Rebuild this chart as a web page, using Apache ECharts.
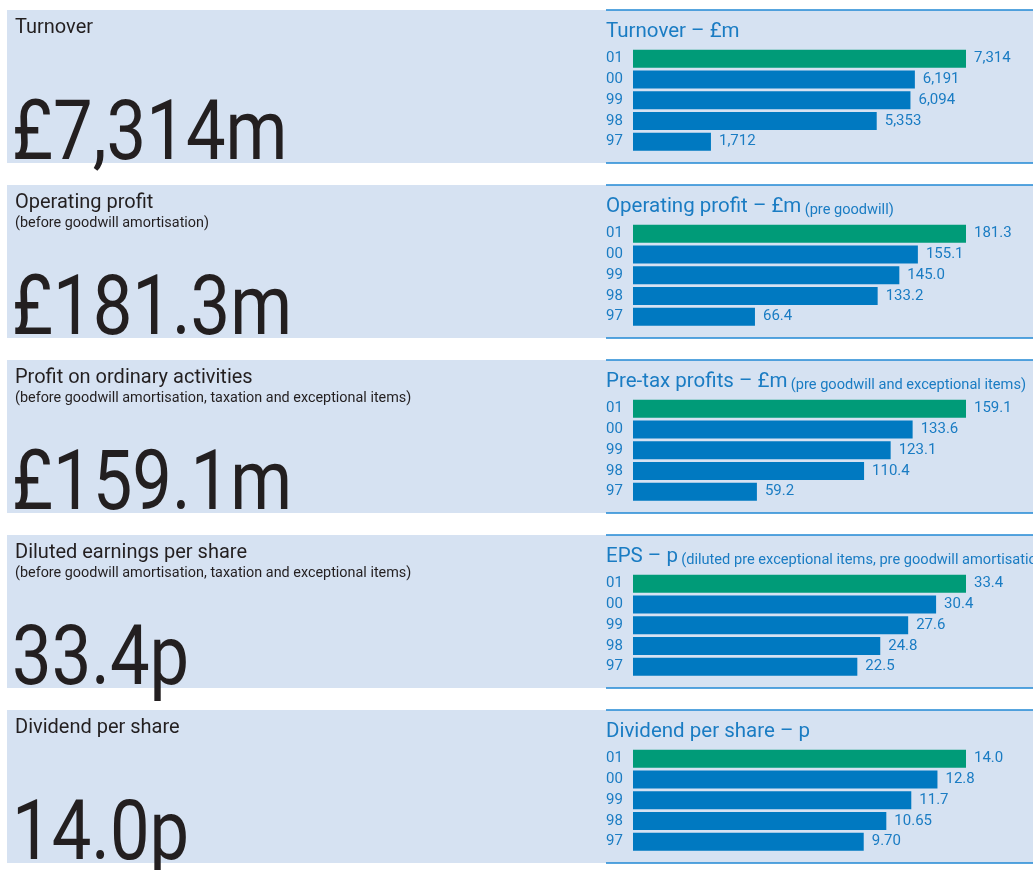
<!DOCTYPE html>
<html>
<head>
<meta charset="utf-8">
<script src="https://cdn.jsdelivr.net/npm/echarts@6/dist/echarts.min.js"></script>
<style>
  html, body { margin: 0; padding: 0; background: #fff; }
  #chart { width: 1033px; height: 870px; }
</style>
</head>
<body>
<div id="chart"></div>
<script>
// years, newest first
var years = ['01', '00', '99', '98', '97'];

var turnover = [7314, 6191, 6094, 5353, 1712];
var turnoverLabels = ['7,314', '6,191', '6,094', '5,353', '1,712'];
var opProfit = [181.3, 155.1, 145.0, 133.2, 66.4];
var opProfitLabels = ['181.3', '155.1', '145.0', '133.2', '66.4'];
var pretax = [159.1, 133.6, 123.1, 110.4, 59.2];
var pretaxLabels = ['159.1', '133.6', '123.1', '110.4', '59.2'];
var eps = [33.4, 30.4, 27.6, 24.8, 22.5];
var epsLabels = ['33.4', '30.4', '27.6', '24.8', '22.5'];
var dividend = [14.0, 12.8, 11.7, 10.65, 9.70];
var dividendLabels = ['14.0', '12.8', '11.7', '10.65', '9.70'];

var leftTitles = ['Turnover', 'Operating profit', 'Profit on ordinary activities',
  'Diluted earnings per share', 'Dividend per share'];
var leftNotes = ['', '(before goodwill amortisation)',
  '(before goodwill amortisation, taxation and exceptional items)',
  '(before goodwill amortisation, taxation and exceptional items)', ''];
var headlines = ['£7,314m', '£181.3m', '£159.1m', '33.4p', '14.0p'];
var chartTitles = ['Turnover – £m', 'Operating profit – £m', 'Pre-tax profits – £m',
  'EPS – p', 'Dividend per share – p'];
var chartNotes = ['', '(pre goodwill)', '(pre goodwill and exceptional items)',
  '(diluted pre exceptional items, pre goodwill amortisation)', ''];

var allValues = [turnover, opProfit, pretax, eps, dividend];
var allLabels = [turnoverLabels, opProfitLabels, pretaxLabels, epsLabels, dividendLabels];

var FONT = 'Roboto, "Noto Sans", sans-serif';
var BAND = '#d6e2f2';
var LINE = '#2188d5';
var TXT_BLUE = '#1a7cc3';
var BAR_BLUE = '#0079c1';
var BAR_GREEN = '#009b78';
var DARK = '#231f20';

var chart = echarts.init(document.getElementById('chart'));

var grids = [], xAxes = [], yAxes = [], series = [], graphics = [];

for (var i = 0; i < 5; i++) {
  var bandTop = 10 + i * 175;
  var bandBottom = bandTop + 153;

  // background band + rules on the right
  graphics.push({ type: 'rect', z: -10, shape: { x: 7, y: bandTop, width: 1026, height: 153 }, style: { fill: BAND } });
  graphics.push({ type: 'line', z: -5, shape: { x1: 606, y1: bandTop, x2: 1033, y2: bandTop }, style: { stroke: LINE, lineWidth: 1.5 } });
  graphics.push({ type: 'line', z: -5, shape: { x1: 606, y1: bandBottom, x2: 1033, y2: bandBottom }, style: { stroke: LINE, lineWidth: 1.5 } });

  // left headings
  graphics.push({ type: 'text', x: 15, y: bandTop + 18, style: {
    text: leftTitles[i], fill: DARK, font: '20px ' + FONT, textVerticalAlign: 'middle' } });
  if (leftNotes[i]) {
    graphics.push({ type: 'text', x: 15, y: bandTop + 38, style: {
      text: leftNotes[i], fill: DARK, font: '14.4px ' + FONT, textVerticalAlign: 'middle' } });
  }
  // big figure
  graphics.push({ type: 'text', x: 12, y: bandBottom - 25, scaleX: 0.84, style: {
    text: headlines[i], fill: DARK, font: '84px ' + FONT, textVerticalAlign: 'middle' } });

  // chart title on the right
  graphics.push({ type: 'text', x: 606, y: bandTop + 22, style: {
    text: '{a|' + chartTitles[i] + '}' + (chartNotes[i] ? ' {b|' + chartNotes[i] + '}' : ''),
    textVerticalAlign: 'middle',
    rich: {
      a: { fontSize: 20.5, fontFamily: FONT, fill: TXT_BLUE, color: TXT_BLUE, verticalAlign: 'bottom' },
      b: { fontSize: 14.6, fontFamily: FONT, fill: TXT_BLUE, color: TXT_BLUE, verticalAlign: 'bottom' }
    } } });

  grids.push({ left: 633, width: 333, top: bandTop + 38.3, height: 103.75 });
  xAxes.push({ gridIndex: i, type: 'value', min: 0, max: allValues[i][0], show: false });
  yAxes.push({
    gridIndex: i, type: 'category', data: years, inverse: true,
    axisLine: { show: false }, axisTick: { show: false }, splitLine: { show: false },
    axisLabel: { align: 'left', margin: 27, color: TXT_BLUE, fontSize: 15, fontFamily: FONT }
  });
  (function (labels, values, idx) {
    series.push({
      type: 'bar', xAxisIndex: idx, yAxisIndex: idx, barWidth: 18,
      data: values.map(function (v, k) {
        return { value: v, itemStyle: { color: k === 0 ? BAR_GREEN : BAR_BLUE } };
      }),
      label: {
        show: true, position: 'right', distance: 8, color: TXT_BLUE,
        fontSize: 15, fontFamily: FONT, textBorderWidth: 0,
        formatter: function (p) { return labels[p.dataIndex]; }
      }
    });
  })(allLabels[i], allValues[i], i);
}

chart.setOption({
  animation: false,
  backgroundColor: '#fff',
  grid: grids,
  xAxis: xAxes,
  yAxis: yAxes,
  series: series,
  graphic: graphics
});
</script>
</body>
</html>
